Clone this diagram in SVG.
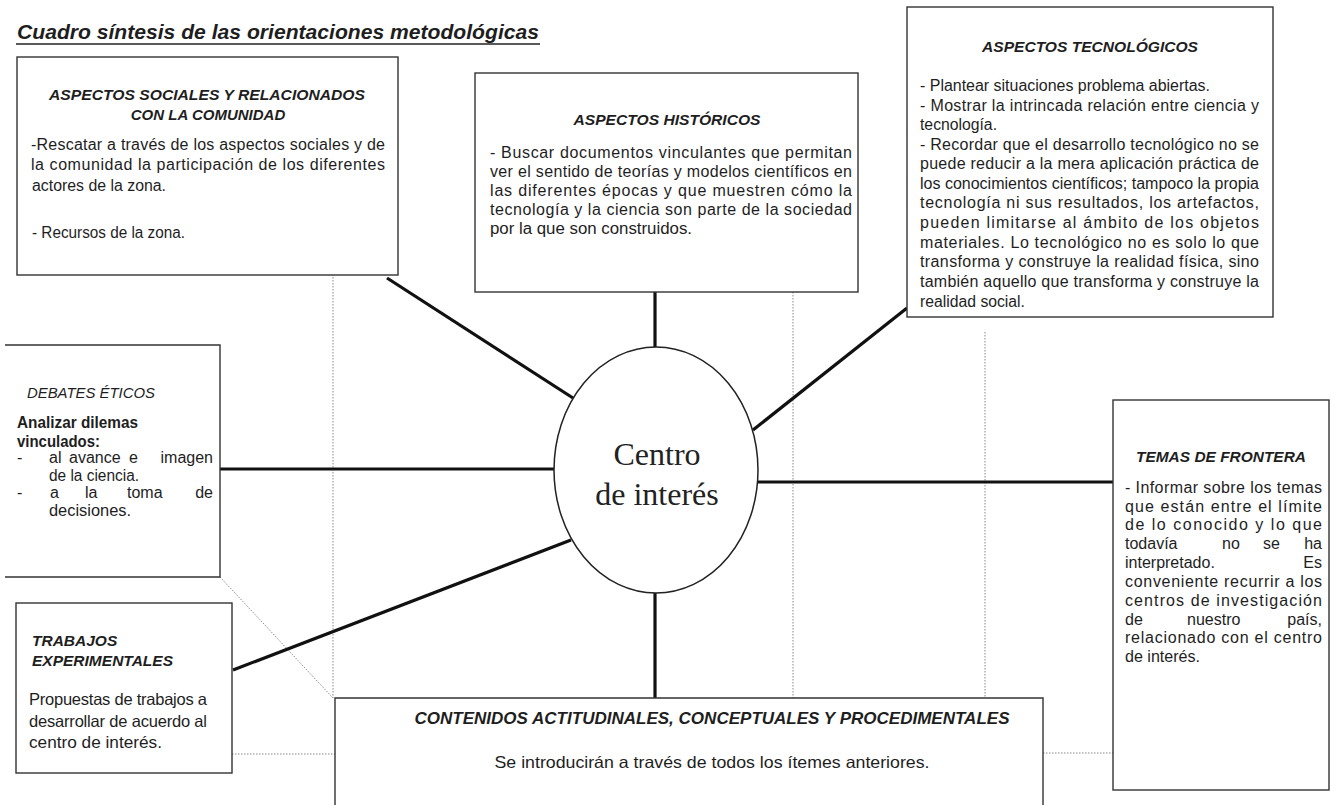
<svg xmlns="http://www.w3.org/2000/svg" width="1335" height="805" viewBox="0 0 1335 805">
<style>
text{font-family:"Liberation Sans",Arial,sans-serif;fill:#1e1e1e}
.box{fill:#fff;stroke:#333;stroke-width:1.4}
.h{font-weight:bold;font-style:italic;font-size:15px;text-anchor:middle}
.b{font-size:16px}
.con{stroke:#111;stroke-width:3.2;fill:none;stroke-linecap:butt}
.dot{stroke:#8a8a8a;stroke-width:1;stroke-dasharray:1.5 1.5;fill:none}
.ctr{font-family:"Liberation Serif","Times New Roman",serif;font-size:32px;text-anchor:middle;fill:#222}
</style>
<rect width="1335" height="805" fill="#fff"/>

<g id="titulo">
<text x="17" y="39" font-size="21" font-weight="bold" font-style="italic" textLength="522" lengthAdjust="spacingAndGlyphs">Cuadro síntesis de las orientaciones metodológicas</text>
<line x1="16" y1="44" x2="540" y2="44" stroke="#222" stroke-width="1.6"/>
</g>

<g id="dotted">
<line class="dot" x1="333" y1="262" x2="333" y2="698"/>
<line class="dot" x1="793" y1="292" x2="793" y2="698"/>
<line class="dot" x1="985" y1="332" x2="985" y2="698"/>
<line class="dot" x1="220" y1="577" x2="333" y2="698"/>
<line class="dot" x1="232" y1="754" x2="335" y2="754"/>
<line class="dot" x1="1043" y1="753" x2="1113" y2="753"/>
<line class="dot" x1="335" y1="801" x2="1043" y2="801" stroke="#bbb"/>
</g>

<g id="connectors">
<line class="con" x1="387" y1="278" x2="573" y2="398"/>
<line class="con" x1="655" y1="292" x2="655" y2="347"/>
<line class="con" x1="907" y1="308" x2="753" y2="430"/>
<line class="con" x1="220" y1="469" x2="555" y2="469"/>
<line class="con" x1="758" y1="482" x2="1113" y2="482"/>
<line class="con" x1="233" y1="670" x2="571" y2="540"/>
<line class="con" x1="655" y1="593" x2="655" y2="698"/>
</g>

<g id="sociales">
<rect class="box" x="17" y="57" width="381" height="218"/>
<text class="h" x="207" y="100" textLength="316" lengthAdjust="spacingAndGlyphs">ASPECTOS SOCIALES Y RELACIONADOS</text>
<text class="h" x="208" y="120">CON LA COMUNIDAD</text>
<text class="b" x="31" y="150" textLength="354" lengthAdjust="spacing">-Rescatar a través de los aspectos sociales y de</text>
<text class="b" x="31" y="170" textLength="354" lengthAdjust="spacing">la comunidad la participación de los  diferentes</text>
<text class="b" x="32" y="191" textLength="134" lengthAdjust="spacingAndGlyphs">actores de la zona.</text>
<text class="b" x="32" y="238" textLength="153" lengthAdjust="spacingAndGlyphs">- Recursos de la zona.</text>
</g>

<g id="historicos">
<rect class="box" x="475" y="73" width="383" height="219"/>
<text class="h" x="667" y="125" textLength="187" lengthAdjust="spacingAndGlyphs">ASPECTOS HISTÓRICOS</text>
<text class="b" x="490" y="158" textLength="362" lengthAdjust="spacing">- Buscar documentos vinculantes que permitan</text>
<text class="b" x="490" y="177" textLength="362" lengthAdjust="spacing">ver el sentido de teorías y modelos científicos en</text>
<text class="b" x="490" y="196" textLength="362" lengthAdjust="spacing">las diferentes épocas y que muestren cómo la</text>
<text class="b" x="490" y="215" textLength="362" lengthAdjust="spacing">tecnología y la ciencia son parte de la sociedad</text>
<text class="b" x="490" y="234" textLength="202" lengthAdjust="spacingAndGlyphs">por la que son construidos.</text>
</g>

<g id="tecnologicos">
<rect class="box" x="907" y="7" width="366" height="310"/>
<text class="h" x="1090" y="52" textLength="216" lengthAdjust="spacingAndGlyphs">ASPECTOS TECNOLÓGICOS</text>
<text class="b" x="920" y="91" textLength="290" lengthAdjust="spacingAndGlyphs">- Plantear situaciones problema abiertas.</text>
<text class="b" x="920" y="111" textLength="339" lengthAdjust="spacing">- Mostrar la intrincada relación entre ciencia y</text>
<text class="b" x="920" y="130" textLength="77" lengthAdjust="spacingAndGlyphs">tecnología.</text>
<text class="b" x="920" y="150" textLength="339" lengthAdjust="spacing">- Recordar que el desarrollo tecnológico no se</text>
<text class="b" x="920" y="169" textLength="339" lengthAdjust="spacing">puede reducir a la mera aplicación práctica de</text>
<text class="b" x="920" y="189" textLength="339" lengthAdjust="spacing">los conocimientos científicos; tampoco la propia</text>
<text class="b" x="920" y="208" textLength="339" lengthAdjust="spacing">tecnología ni sus resultados, los artefactos,</text>
<text class="b" x="920" y="228" textLength="339" lengthAdjust="spacing">pueden limitarse al ámbito de  los objetos</text>
<text class="b" x="920" y="248" textLength="339" lengthAdjust="spacing">materiales. Lo tecnológico no es solo lo que</text>
<text class="b" x="920" y="267" textLength="339" lengthAdjust="spacing">transforma y construye la realidad física, sino</text>
<text class="b" x="920" y="287" textLength="339" lengthAdjust="spacing">también aquello que transforma y construye la</text>
<text class="b" x="920" y="307" textLength="105" lengthAdjust="spacingAndGlyphs">realidad social.</text>
</g>

<g id="debates">
<path class="box" d="M5,345 H220 V577 H5"/>
<text x="91" y="398" font-size="15.5" font-style="italic" text-anchor="middle" textLength="128" lengthAdjust="spacingAndGlyphs">DEBATES ÉTICOS</text>
<text class="b" x="17" y="428" font-weight="bold" textLength="121" lengthAdjust="spacingAndGlyphs">Analizar dilemas</text>
<text class="b" x="17" y="447" font-weight="bold" textLength="83" lengthAdjust="spacingAndGlyphs">vinculados:</text>
<text class="b" x="17" y="463">-</text>
<text class="b" x="49" y="463">al</text>
<text class="b" x="69" y="463">avance</text>
<text class="b" x="129" y="463">e</text>
<text class="b" x="213" y="463" text-anchor="end">imagen</text>
<text class="b" x="49" y="481" textLength="90" lengthAdjust="spacingAndGlyphs">de la ciencia.</text>
<text class="b" x="17" y="498">-</text>
<text class="b" x="50" y="498">a</text>
<text class="b" x="85" y="498">la</text>
<text class="b" x="127" y="498">toma</text>
<text class="b" x="213" y="498" text-anchor="end">de</text>
<text class="b" x="49" y="516" textLength="82" lengthAdjust="spacingAndGlyphs">decisiones.</text>
</g>

<g id="trabajos">
<rect class="box" x="16" y="603" width="216" height="170"/>
<text x="32" y="646" font-size="15.5" font-weight="bold" font-style="italic">TRABAJOS</text>
<text x="32" y="666" font-size="15.5" font-weight="bold" font-style="italic" textLength="141" lengthAdjust="spacingAndGlyphs">EXPERIMENTALES</text>
<text x="29" y="705" font-size="16.5" textLength="178" lengthAdjust="spacing">Propuestas de trabajos a</text>
<text x="29" y="727" font-size="16.5" textLength="178" lengthAdjust="spacing">desarrollar de acuerdo al</text>
<text x="29" y="748" font-size="16.5" textLength="133" lengthAdjust="spacingAndGlyphs">centro de interés.</text>
</g>

<g id="frontera">
<rect class="box" x="1113" y="400" width="216" height="390"/>
<text class="h" x="1221" y="462" textLength="170" lengthAdjust="spacingAndGlyphs">TEMAS DE FRONTERA</text>
<text class="b" x="1125" y="493" textLength="197" lengthAdjust="spacing">- Informar sobre los temas</text>
<text class="b" x="1125" y="512" textLength="197" lengthAdjust="spacing">que están entre el límite</text>
<text class="b" x="1125" y="530" textLength="197" lengthAdjust="spacing">de lo conocido y lo que</text>
<text class="b" x="1125" y="549">todavía</text>
<text class="b" x="1222" y="549">no</text>
<text class="b" x="1263" y="549">se</text>
<text class="b" x="1322" y="549" text-anchor="end">ha</text>
<text class="b" x="1125" y="568">interpretado.</text>
<text class="b" x="1322" y="568" text-anchor="end">Es</text>
<text class="b" x="1125" y="587" textLength="197" lengthAdjust="spacing">conveniente recurrir a  los</text>
<text class="b" x="1125" y="606" textLength="197" lengthAdjust="spacing">centros de investigación</text>
<text class="b" x="1125" y="625">de</text>
<text class="b" x="1187" y="625">nuestro</text>
<text class="b" x="1322" y="625" text-anchor="end">país,</text>
<text class="b" x="1125" y="643" textLength="197" lengthAdjust="spacing">relacionado con el centro</text>
<text class="b" x="1125" y="662" textLength="75" lengthAdjust="spacingAndGlyphs">de interés.</text>
</g>

<g id="contenidos">
<path class="box" d="M335,806 V698 H1043 V806"/>
<text x="712" y="724" font-size="16.5" font-weight="bold" font-style="italic" text-anchor="middle" textLength="595" lengthAdjust="spacingAndGlyphs">CONTENIDOS ACTITUDINALES, CONCEPTUALES Y PROCEDIMENTALES</text>
<text x="712" y="768" font-size="16.5" text-anchor="middle" textLength="435" lengthAdjust="spacingAndGlyphs">Se introducirán a través de todos los ítemes anteriores.</text>
</g>

<g id="centro">
<ellipse cx="656" cy="470" rx="102" ry="123" fill="#fff" stroke="#222" stroke-width="1.5"/>
<text class="ctr" x="657" y="465">Centro</text>
<text class="ctr" x="657" y="505">de interés</text>
</g>
</svg>
